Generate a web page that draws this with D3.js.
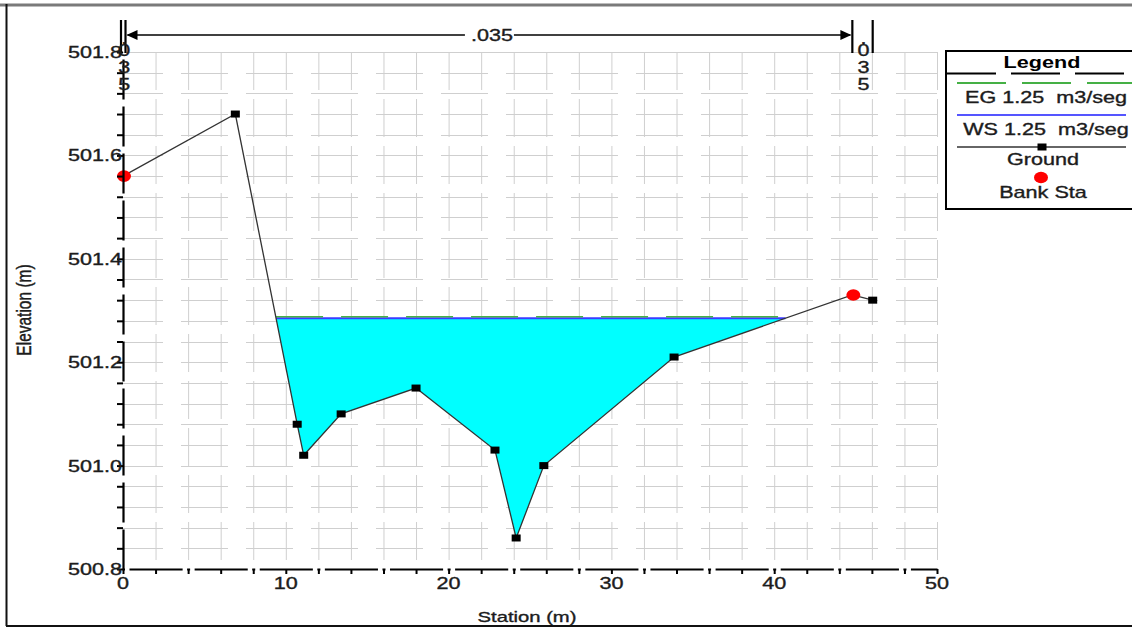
<!DOCTYPE html>
<html>
<head>
<meta charset="utf-8">
<script src="https://cdn.jsdelivr.net/npm/d3@7"></script>
<style>
  html, body { margin: 0; padding: 0; background: #fff; }
  svg { display: block; font-family: "Liberation Sans", Arial, sans-serif; }
  svg text { white-space: pre; }
</style>
</head>
<body>
<svg id="chart" width="1132" height="628"></svg>
<script>
// Cross-section survey: station (m) and ground elevation (m)
const stations   = [0, 6.9, 10.7, 11.1, 13.4, 18.0, 22.85, 24.15, 25.85, 33.85, 44.8, 46.05];
const elevations = [501.56, 501.68, 501.08, 501.02, 501.10, 501.15, 501.03, 500.86, 501.00, 501.21, 501.33, 501.32];
const bankStations = [0, 44.8];
const waterSurface = 501.285;   // WS 1.25 m3/seg
const energyGrade  = 501.287;   // EG 1.25 m3/seg
// Manning's n: left overbank, main channel, right overbank
const manningN = [".035", ".035", ".035"];
const xTickLabels = [0, 10, 20, 30, 40, 50];
const yTickLabels = [500.8, 501.0, 501.2, 501.4, 501.6, 501.8];
const legendLabels = ["EG 1.25  m3/seg", "WS 1.25  m3/seg", "Ground", "Bank Sta"];

const SX = 1.35;               // horizontal text stretch of the plot output
const INK = "#1c1c1c";
const svg = d3.select("#chart");

const x = d3.scaleLinear().domain([0, 50]).range([123, 937]);
const y = d3.scaleLinear().domain([500.8, 501.8]).range([569, 52]);

// helper for horizontally stretched text
function label(parent, txt, px, py, opts = {}) {
  const fill = opts.fill || INK;
  return parent.append("text")
    .attr("transform", `translate(${px},${py}) scale(${SX},1)` + (opts.rotate ? ` rotate(${opts.rotate})` : ""))
    .attr("text-anchor", opts.anchor || "middle")
    .attr("font-size", opts.size || 16)
    .attr("font-weight", opts.weight || "normal")
    .attr("fill", fill)
    .attr("stroke", opts.weight === "bold" ? null : fill)
    .attr("stroke-width", 0.35)
    .text(txt);
}

// page frame
svg.append("line").attr("x1", 0).attr("x2", 1132).attr("y1", 5).attr("y2", 5)
  .attr("stroke", "#7a7a7a").attr("stroke-width", 3);
svg.append("line").attr("x1", 6.5).attr("x2", 6.5).attr("y1", 4).attr("y2", 626)
  .attr("stroke", "#111").attr("stroke-width", 2);
svg.append("line").attr("x1", 6).attr("x2", 1132).attr("y1", 626).attr("y2", 626)
  .attr("stroke", "#111").attr("stroke-width", 2);

// grid
const grid = svg.append("g").attr("stroke", "#cfcfcf").attr("stroke-width", 1).attr("fill", "none");
grid.selectAll("line.v").data(d3.range(2, 51, 2)).join("line")
  .attr("x1", d => x(d) + 0.5).attr("x2", d => x(d) + 0.5)
  .attr("y1", y(501.8)).attr("y2", y(500.8))
  .attr("stroke-dasharray", "38,9");
grid.selectAll("line.h").data(d3.range(0, 25).map(i => 500.84 + i * 0.04)).join("line")
  .attr("x1", x(0)).attr("x2", x(50))
  .attr("y1", d => Math.round(y(d)) + 0.5).attr("y2", d => Math.round(y(d)) + 0.5)
  .attr("stroke-dasharray", d => Math.abs(d - 501.8) < 1e-6 ? null : "47,18")
  .attr("stroke-dashoffset", 7);

// water area below the water surface
function wetPolygon(xs, ys, ws) {
  const pts = [];
  for (let i = 0; i < xs.length - 1; i++) {
    const b0 = ys[i] < ws, b1 = ys[i + 1] < ws;
    if (b0) pts.push([xs[i], ys[i]]);
    if (b0 !== b1) {
      const t = (ws - ys[i]) / (ys[i + 1] - ys[i]);
      pts.push([xs[i] + t * (xs[i + 1] - xs[i]), ws]);
    }
  }
  if (ys[ys.length - 1] < ws) pts.push([xs[xs.length - 1], ys[ys.length - 1]]);
  return pts;
}
const wet = wetPolygon(stations, elevations, waterSurface);
svg.append("path")
  .attr("d", d3.line().x(d => x(d[0])).y(d => y(d[1]))(wet) + "Z")
  .attr("fill", "#00ffff");

const wsLeft = wet[0][0], wsRight = wet[wet.length - 1][0];
svg.append("line")
  .attr("x1", x(wsLeft)).attr("x2", x(wsRight))
  .attr("y1", y(waterSurface)).attr("y2", y(waterSurface))
  .attr("stroke", "#3b3bff").attr("stroke-width", 2);
svg.append("line")
  .attr("x1", x(wsLeft)).attr("x2", x(wsRight))
  .attr("y1", y(energyGrade) - 0.5).attr("y2", y(energyGrade) - 0.5)
  .attr("stroke", "#45b045").attr("stroke-width", 1.5)
  .attr("stroke-dasharray", "47,18");

// ground profile
const ground = stations.map((s, i) => [s, elevations[i]]);
svg.append("path")
  .attr("d", d3.line().x(d => x(d[0])).y(d => y(d[1]))(ground))
  .attr("fill", "none").attr("stroke", "#333").attr("stroke-width", 1.3);
svg.selectAll("rect.pt").data(ground.filter(d => !bankStations.includes(d[0]))).join("rect")
  .attr("x", d => x(d[0]) - 4.5).attr("y", d => y(d[1]) - 3.5)
  .attr("width", 9).attr("height", 7).attr("fill", "#000");

// bank stations
const elevAt = s => {
  const i = d3.bisectLeft(stations, s);
  if (stations[i] === s) return elevations[i];
  const t = (s - stations[i - 1]) / (stations[i] - stations[i - 1]);
  return elevations[i - 1] + t * (elevations[i] - elevations[i - 1]);
};
svg.selectAll("ellipse.bank").data(bankStations).join("ellipse")
  .attr("cx", d => x(d) + 1).attr("cy", d => y(elevAt(d)))
  .attr("rx", 7).attr("ry", 5.8).attr("fill", "#ff0000");

// axes
const xAxis = svg.append("g").attr("transform", `translate(0,${y(500.8)})`)
  .call(d3.axisBottom(x).tickValues(d3.range(0, 51, 2)).tickSize(5).tickSizeOuter(0).tickFormat(""));
xAxis.select(".domain").attr("stroke", "#000").attr("stroke-width", 2.2)
  .attr("stroke-dasharray", "3,4.5,53.12,4.5").attr("stroke-dashoffset", 1.5);
xAxis.selectAll(".tick line").attr("stroke", "#000").attr("stroke-width", 2);
xTickLabels.forEach(v => label(svg, v, x(v), 589, { size: 16 }));

const yAxis = svg.append("g").attr("transform", `translate(${x(0)},0)`)
  .call(d3.axisLeft(y).tickValues(d3.range(0, 26).map(i => 500.8 + i * 0.04)).tickSize(6).tickSizeOuter(0).tickFormat(""));
yAxis.select(".domain").attr("stroke", "#000").attr("stroke-width", 2.2)
  .attr("stroke-dasharray", "40,7");
yAxis.selectAll(".tick line").attr("stroke", "#000").attr("stroke-width", 2);
yTickLabels.forEach(v => label(svg, d3.format(".1f")(v), x(0) - 1, y(v) + 6, { size: 16, anchor: "end" }));

// axis titles
label(svg, "Station (m)", 527, 622, { size: 15 });
label(svg, "Elevation (m)", 31, 310, { size: 15.5, rotate: -90 });

// Manning's n markers along the top
const nTop = svg.append("g");
const leftStart = x(stations[0]) - 2, leftBank = x(bankStations[0]) + 2.5;
const rightBank = x(bankStations[1]), rightEnd = x(stations[stations.length - 1]);
[leftStart, leftBank, rightBank, rightEnd].forEach(px => {
  nTop.append("line").attr("x1", px).attr("x2", px).attr("y1", 20).attr("y2", 53)
    .attr("stroke", "#000").attr("stroke-width", 2.2);
});
const arrowY = 35;
const midX = (leftBank + rightBank) / 2 + 3;
nTop.append("line").attr("x1", leftBank + 2).attr("x2", midX - 27).attr("y1", arrowY).attr("y2", arrowY)
  .attr("stroke", "#000").attr("stroke-width", 1.6);
nTop.append("line").attr("x1", midX + 22).attr("x2", rightBank - 2).attr("y1", arrowY).attr("y2", arrowY)
  .attr("stroke", "#000").attr("stroke-width", 1.6);
nTop.append("path").attr("d", `M${leftBank + 1},${arrowY} l11,-5 l0,10 Z`).attr("fill", "#000");
nTop.append("path").attr("d", `M${rightBank - 1},${arrowY} l-11,-5 l0,10 Z`).attr("fill", "#000");
label(nTop, manningN[1], midX, arrowY + 6, { size: 16 });

function verticalN(txt, px) {
  const chars = txt.split("");
  chars.forEach((c, i) => {
    const py = c === "." ? 44 : 56 + (i - 1) * 17;
    label(nTop, c, px, py, { size: 16 });
  });
}
verticalN(manningN[0], (leftStart + leftBank) / 2 + 1);
verticalN(manningN[2], (rightBank + rightEnd) / 2 + 1);

// legend
const lg = svg.append("g");
lg.append("rect").attr("x", 946).attr("y", 51).attr("width", 210).attr("height", 158)
  .attr("fill", "#fff").attr("stroke", "#000").attr("stroke-width", 2);
label(lg, "Legend", 1042, 68, { size: 16, weight: "bold", fill: "#000" });
lg.append("line").attr("x1", 947).attr("x2", 1132).attr("y1", 73.5).attr("y2", 73.5)
  .attr("stroke", "#000").attr("stroke-width", 1.8).attr("stroke-dasharray", "49,15");
lg.append("line").attr("x1", 957).attr("x2", 1132).attr("y1", 83).attr("y2", 83)
  .attr("stroke", "#45b045").attr("stroke-width", 1.8).attr("stroke-dasharray", "49,16");
label(lg, legendLabels[0], 1046, 103);
lg.append("line").attr("x1", 957).attr("x2", 1126).attr("y1", 115).attr("y2", 115)
  .attr("stroke", "#5555ff").attr("stroke-width", 2);
label(lg, legendLabels[1], 1046, 135);
lg.append("line").attr("x1", 957).attr("x2", 1126).attr("y1", 147).attr("y2", 147)
  .attr("stroke", "#333").attr("stroke-width", 1.3);
lg.append("rect").attr("x", 1037.5).attr("y", 143.5).attr("width", 9).attr("height", 7).attr("fill", "#000");
label(lg, legendLabels[2], 1043, 165);
lg.append("ellipse").attr("cx", 1041).attr("cy", 177.5).attr("rx", 7).attr("ry", 5.8).attr("fill", "#ff0000");
label(lg, legendLabels[3], 1043, 198);
</script>
</body>
</html>
